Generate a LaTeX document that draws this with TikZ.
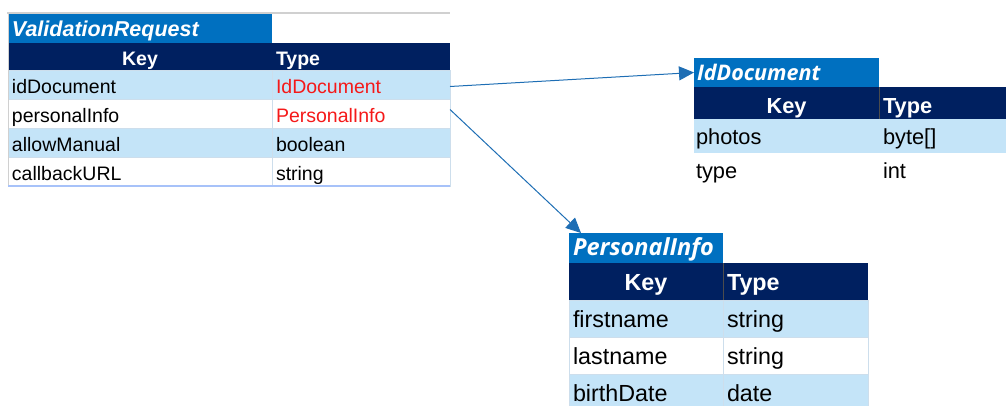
\documentclass[tikz,border=0pt]{standalone}
\usepackage{fontspec}
\setmainfont{Liberation Sans}
\newfontfamily\titlefont{Open Sans}
\usetikzlibrary{arrows.meta,positioning}

\definecolor{titleblue}{RGB}{0,112,192}
\definecolor{headnavy}{RGB}{0,32,96}
\definecolor{rowblue}{RGB}{196,228,248}
\definecolor{gridline}{RGB}{205,222,236}
\definecolor{edgegray}{RGB}{208,208,208}
\definecolor{linkblue}{RGB}{30,110,180}
\definecolor{typered}{RGB}{245,25,25}

\newcommand\vrfont{\fontsize{19.5}{22}\selectfont}
\newcommand\idfont{\fontsize{21.8}{24}\selectfont}
\newcommand\pifont{\fontsize{23.3}{26}\selectfont}

\tikzset{
  cell/.style={anchor=north west, inner xsep=4pt, inner ysep=0pt, outer sep=0pt,
    text height=17pt, text depth=0pt},
  title/.style={cell, fill=titleblue, text=white, align=left},
  head/.style={cell, fill=headnavy, text=white, font=\bfseries},
  row/.style={cell, draw=gridline, line width=.6pt, align=left},
  link/.style={draw=linkblue, line width=1pt, -{Triangle[length=15pt,width=14pt]}}
}

\begin{document}
\begin{tikzpicture}[x=1pt,y=-1pt]
  \useasboundingbox (0,0) rectangle (1006,405);

  % ValidationRequest
  \node[title, minimum width=264pt, minimum height=29pt, text width=256pt, text height=16pt,
    font=\fontsize{21.5}{24}\selectfont\bfseries\itshape] (vr-title) at (8,14) {ValidationRequest};
  \node[head, minimum width=264pt, minimum height=27pt, font=\vrfont\bfseries] (vr-key) at (8,43) {Key};
  \node[head, minimum width=178pt, minimum height=27pt, text width=170pt, align=left,
    font=\vrfont\bfseries] (vr-type) at (272,43) {Type};
  \foreach \k/\t/\c/\f [count=\i] in {idDocument/IdDocument/typered/rowblue,
      personalInfo/PersonalInfo/typered/white, allowManual/boolean/black/rowblue,
      callbackURL/string/black/white} {
    \node[row, fill=\f, font=\vrfont, minimum height=29pt, text width=256pt]
      (vr-k\i) at (8,70+29*\i-29) {\k};
    \node[row, fill=\f, font=\vrfont, minimum height=29pt, text width=170pt, text=\c]
      (vr-t\i) at (272,70+29*\i-29) {\t};
  }
  \coordinate (vr-corner) at (450,13);
  \draw[edgegray, line width=2pt] (7,13) -- (vr-corner);
  \draw[edgegray, line width=1pt] (vr-title.north west) -- (vr-k4.south west);
  \draw[rowblue!85!blue, line width=2pt] (vr-k4.south west) -- (vr-t4.south east);

  % IdDocument
  \node[title, minimum width=185pt, minimum height=29pt, text width=179pt, inner xsep=3pt,
    text height=15pt, font=\fontsize{21.5}{24}\titlefont\bfseries\itshape] (id-title) at (694,58) {IdDocument};
  \node[head, minimum width=185pt, minimum height=32pt, text height=20pt,
    font=\idfont\bfseries] (id-key) at (694,87) {Key};
  \node[head, minimum width=127pt, minimum height=32pt, text width=119pt, align=left,
    text height=20pt, font=\idfont\bfseries] (id-type) at (879,87) {Type};
  \draw[black!70, line width=1pt] (id-type.north west) -- (id-type.south west);
  \foreach \k/\t/\f [count=\i] in {photos/byte[]/rowblue, type/int/white} {
    \node[cell, fill=\f, font=\idfont, minimum height=34pt, minimum width=185pt,
      inner xsep=2pt, text width=181pt, align=left] (id-k\i) at (694,119+34*\i-34) {\k};
    \node[cell, fill=\f, font=\idfont, minimum height=34pt, minimum width=127pt,
      text width=119pt, align=left] (id-t\i) at (879,119+34*\i-34) {\t};
  }

  % PersonalInfo
  \node[title, minimum width=154pt, minimum height=30pt, text width=146pt, text height=14pt,
    font=\fontsize{23.5}{26}\titlefont\bfseries\itshape] (pi-title) at (569,233) {PersonalInfo};
  \node[head, minimum width=154pt, minimum height=37pt, font=\pifont\bfseries] (pi-key) at (569,263) {Key};
  \node[head, minimum width=145pt, minimum height=37pt, text width=137pt, align=left,
    font=\pifont\bfseries] (pi-type) at (723,263) {Type};
  \draw[black!70, line width=1pt] (pi-type.north west) -- (pi-type.south west);
  \foreach \k/\t/\f [count=\i] in {firstname/string/rowblue, lastname/string/white,
      birthDate/date/rowblue} {
    \node[row, fill=\f, font=\pifont, minimum height=37pt, minimum width=154pt,
      text width=146pt] (pi-k\i) at (569,300+37*\i-37) {\k};
    \node[row, fill=\f, font=\pifont, minimum height=37pt, minimum width=145pt,
      text width=137pt] (pi-t\i) at (723,300+37*\i-37) {\t};
  }

  % links
  \draw[link] ([yshift=-2pt]vr-t1.east) -- (id-title.west);
  \draw[link] ([yshift=4pt]vr-t2.east) -- (pi-title.167);
\end{tikzpicture}
\end{document}
